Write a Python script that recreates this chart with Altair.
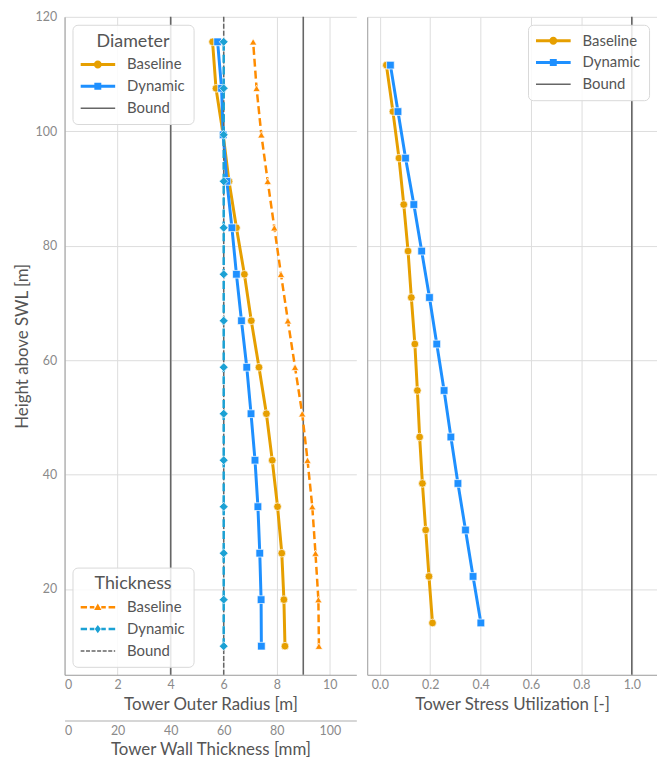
import altair as alt
import pandas as pd

# ---------------- data ----------------
heights = [10.0, 18.13, 26.25, 34.38, 42.5, 50.63, 58.75, 66.88, 75.0, 83.13, 91.25, 99.38, 107.5, 115.63]
radius_baseline = [8.31, 8.27, 8.19, 8.03, 7.83, 7.61, 7.33, 7.04, 6.78, 6.48, 6.20, 5.98, 5.71, 5.58]
radius_dynamic = [7.42, 7.41, 7.36, 7.29, 7.18, 7.03, 6.87, 6.67, 6.48, 6.31, 6.12, 5.98, 5.92, 5.77]
thick_baseline = [95.9, 95.7, 94.6, 93.4, 91.6, 89.6, 86.9, 84.2, 81.6, 79.1, 76.6, 74.2, 72.4, 71.1]
thick_dynamic = [60, 60, 60, 60, 60, 60, 60, 60, 60, 60, 60, 60, 60, 60]

stress_heights = [14.06, 22.19, 30.31, 38.44, 46.56, 54.69, 62.81, 70.94, 79.06, 87.19, 95.31, 103.44, 111.56]
stress_baseline = [0.209, 0.195, 0.182, 0.169, 0.158, 0.149, 0.139, 0.125, 0.112, 0.095, 0.076, 0.052, 0.026]
stress_dynamic = [0.401, 0.370, 0.340, 0.310, 0.282, 0.255, 0.226, 0.197, 0.166, 0.135, 0.102, 0.072, 0.042]

radius_bounds = [4.0, 9.0]
thick_bounds = [60.0]
stress_bounds = [1.0]

series_names = ["Baseline", "Dynamic", "Bound"]

# ---------------- styles ----------------
FONT = "Lato"
C_DB = "#E69F00"
C_DD = "#1E90FF"
C_TB = "#FF8C00"
C_TD = "#1BA1D4"
C_BOUND = "#666666"


def rects(segs, h):
    return "".join(f"M{a},{-h}H{b}V{h}H{a}Z" for a, b in segs)


def circle(r):
    return f"M{-r},0A{r},{r} 0 1,1 {r},0A{r},{r} 0 1,1 {-r},0Z"


def square(s):
    return f"M{-s},{-s}H{s}V{s}H{-s}Z"


def triangle(t):
    return f"M0,{-t}L{t * 0.95},{t * 0.7}L{-t * 0.95},{t * 0.7}Z"


def diamond(d):
    return f"M0,{-d}L{d * 0.72},0L0,{d}L{-d * 0.72},0Z"


SOLID_SPLIT = [(-1, -0.2), (0.2, 1)]
DASH_SPLIT = [(-1, -0.62), (-0.46, -0.2), (0.2, 0.46), (0.62, 1)]
THIN_DASH = [(-1, -0.77), (-0.68, -0.45), (-0.36, -0.13), (-0.04, 0.19), (0.28, 0.51), (0.6, 0.83), (0.92, 1)]

diam_shapes = [rects(SOLID_SPLIT, 0.086) + circle(0.23),
               rects(SOLID_SPLIT, 0.086) + square(0.2),
               rects([(-1, 1)], 0.043)]
thick_shapes = [rects(DASH_SPLIT, 0.072) + triangle(0.22),
                rects(DASH_SPLIT, 0.072) + diamond(0.24),
                rects(THIN_DASH, 0.043)]
stress_shapes = diam_shapes

# ---------------- tables ----------------
def table(xname, xs, ys, name):
    return pd.DataFrame({xname: xs, "height": ys, "series": name})


df_rb = table("radius", radius_baseline, heights, "Baseline")
df_rd = table("radius", radius_dynamic, heights, "Dynamic")
df_rbound = pd.DataFrame({"radius": radius_bounds, "series": "Bound"})
df_tb = table("thickness", thick_baseline, heights, "Baseline")
df_td = table("thickness", thick_dynamic, heights, "Dynamic")
df_tbound = pd.DataFrame({"thickness": thick_bounds, "series": "Bound"})
df_sb = table("stress", stress_baseline, stress_heights, "Baseline")
df_sd = table("stress", stress_dynamic, stress_heights, "Dynamic")
df_sbound = pd.DataFrame({"stress": stress_bounds, "series": "Bound"})

# ---------------- encodings ----------------
y_scale = alt.Scale(domain=[5, 120], nice=False, zero=False)
y_left = alt.Y("height:Q", scale=y_scale,
               axis=alt.Axis(values=[20, 40, 60, 80, 100, 120], title="Height above SWL [m]",
                             labelPadding=8, titlePadding=4))
y_right = alt.Y("height:Q", scale=y_scale,
                axis=alt.Axis(values=[20, 40, 60, 80, 100, 120], labels=False, title=None))

x_rad = alt.X("radius:Q", scale=alt.Scale(domain=[0, 11], nice=False, zero=False),
              axis=alt.Axis(values=[0, 2, 4, 6, 8, 10], title="Tower Outer Radius [m]", orient="bottom"))
x_thk = alt.X("thickness:Q", scale=alt.Scale(domain=[0, 110], nice=False, zero=False),
              axis=alt.Axis(values=[0, 20, 40, 60, 80, 100], title="Tower Wall Thickness [mm]",
                            grid=False, offset=46, orient="bottom", domainWidth=1.5,
                            domainColor="#c8c8c8"))
x_str = alt.X("stress:Q", scale=alt.Scale(domain=[-0.05, 1.1], nice=False, zero=False),
              axis=alt.Axis(values=[0, 0.2, 0.4, 0.6, 0.8, 1.0], format=".1f",
                            title="Tower Stress Utilization [-]"))

W_LEFT, W_RIGHT, H = 294, 292, 663


def line(df, x, y, color, width=3, dash=None):
    kw = dict(color=color, strokeWidth=width)
    if dash:
        kw["strokeDash"] = dash
    return alt.Chart(df).mark_line(**kw).encode(x=x, y=y, order="height:Q")


def pts(df, x, y, color, shape, size):
    return alt.Chart(df).mark_point(filled=True, shape=shape, size=size, fill=color, stroke="white",
                                    strokeWidth=0.7, opacity=1).encode(x=x, y=y)


def rule(df, x, color, width=1.6, dash=None):
    kw = dict(color=color, strokeWidth=width)
    if dash:
        kw["strokeDash"] = dash
    return alt.Chart(df).mark_rule(**kw).encode(x=x)


def carrier(df, colors, shapes, title, orient):
    leg = alt.Legend(title=title, orient=orient)
    return alt.Chart(df).transform_filter("datum.height < 0").mark_point(filled=True, opacity=1).encode(
        color=alt.Color("series:N", scale=alt.Scale(domain=series_names, range=colors), legend=leg),
        shape=alt.Shape("series:N", scale=alt.Scale(domain=series_names, range=shapes), legend=leg),
    )


diam = alt.layer(
    rule(df_rbound, x_rad, C_BOUND),
    line(df_rb, x_rad, y_left, C_DB),
    pts(df_rb, x_rad, y_left, C_DB, "circle", 60),
    line(df_rd, x_rad, y_left, C_DD),
    pts(df_rd, x_rad, y_left, C_DD, "square", 60),
    carrier(df_rb, [C_DB, C_DD, C_BOUND], diam_shapes, "Diameter", "top-left"),
)

thick = alt.layer(
    rule(df_tbound, x_thk, C_BOUND, 1.5, [5, 2]),
    line(df_tb, x_thk, y_left, C_TB, 2.5, [8, 4]),
    pts(df_tb, x_thk, y_left, C_TB, "triangle-up", 55),
    line(df_td, x_thk, y_left, C_TD, 2.5, [8, 4]),
    pts(df_td, x_thk, y_left, C_TD, "diamond", 80),
    carrier(df_tb, [C_TB, C_TD, C_BOUND], thick_shapes, "Thickness", "bottom-left"),
)

left = alt.layer(diam, thick).resolve_scale(x="independent", color="independent", shape="independent") \
    .properties(width=W_LEFT, height=H)

right = alt.layer(
    rule(df_sbound, x_str, C_BOUND),
    line(df_sb, x_str, y_right, C_DB),
    pts(df_sb, x_str, y_right, C_DB, "circle", 60),
    line(df_sd, x_str, y_right, C_DD),
    pts(df_sd, x_str, y_right, C_DD, "square", 60),
    carrier(df_sb, [C_DB, C_DD, C_BOUND], stress_shapes, None, "top-right"),
).properties(width=W_RIGHT, height=H)

chart = alt.hconcat(left, right, spacing=11).resolve_scale(
    color="independent", shape="independent", y="shared"
).properties(
    padding={"left": 5, "top": 0, "right": 0, "bottom": 2}
).configure_view(stroke=None).configure_axis(
    labelFont=FONT, titleFont=FONT, labelFontSize=12.5, titleFontSize=17, labelColor="#8a8a8a",
    titleColor="#555555", titleFontWeight="normal", ticks=False, domainColor="#9a9a9a",
    gridColor="#dddddd", labelPadding=4, titlePadding=5
).configure_legend(
    titleFont=FONT, labelFont=FONT, titleFontSize=18, labelFontSize=15, titleColor="#555555",
    labelColor="#555555", titleFontWeight="normal", fillColor="rgba(255,255,255,0.85)",
    strokeColor="#d9d9d9", cornerRadius=5, padding=8, offset=8, symbolSize=1225,
    symbolStrokeWidth=0, labelOffset=12, rowPadding=6, titlePadding=6, titleAnchor="middle",
    titleAlign="center", clipHeight=16
)

chart.save("out.html", embed_options={"renderer": "svg", "actions": False})
